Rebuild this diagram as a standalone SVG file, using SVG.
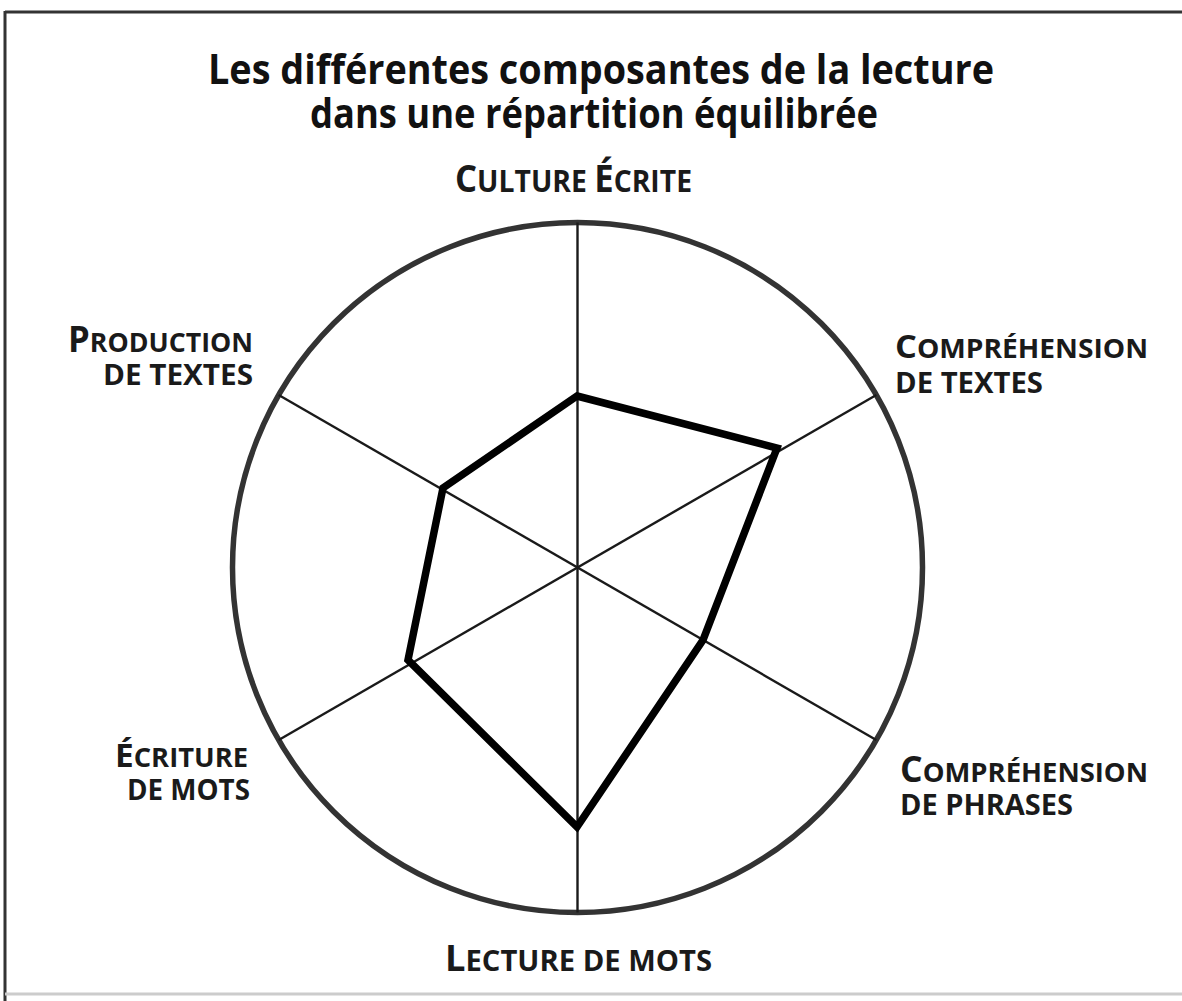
<svg xmlns="http://www.w3.org/2000/svg" width="1182" height="1001" viewBox="0 0 1182 1001">
<style>
.title{font-family:"Open Sans","Liberation Sans",sans-serif;font-weight:700;font-size:42px;fill:#111;}
.lab{font-family:"Open Sans","Liberation Sans",sans-serif;font-weight:700;fill:#1a1a1a;}
.axis{stroke:#1a1a1a;stroke-width:2.4;fill:none;}
.ring{stroke:#333;stroke-width:5.5;fill:none;}
.poly{stroke:#000;stroke-width:7.5;fill:none;stroke-linejoin:miter;}
</style>
<rect x="0" y="0" width="1182" height="1001" fill="#fff"/>
<g id="frame">
<line x1="5" y1="12" x2="1182" y2="12" stroke="#333" stroke-width="3"/>
<line x1="5" y1="11" x2="5" y2="1001" stroke="#333" stroke-width="3"/>
<line x1="5" y1="994" x2="1182" y2="994" stroke="#ccc" stroke-width="3"/>
</g>
<g id="title">
<text class="title" x="208" y="84" textLength="786" lengthAdjust="spacingAndGlyphs">Les différentes composantes de la lecture</text>
<text class="title" x="310" y="128" textLength="568" lengthAdjust="spacingAndGlyphs">dans une répartition équilibrée</text>
</g>
<g id="chart">
<circle class="ring" cx="577.5" cy="567.5" r="345"/>
</g>
<g id="connectors">
<line class="axis" x1="577.5" y1="222.5" x2="577.5" y2="912.5"/>
<line class="axis" x1="278.7" y1="395" x2="876.3" y2="740"/>
<line class="axis" x1="278.7" y1="740" x2="876.3" y2="395"/>
<polygon class="poly" points="577,396 777,448 703,640 577,827 408,660 443,488"/>
</g>
<g id="culture-ecrite">
<text class="lab" x="455" y="192" textLength="237" lengthAdjust="spacingAndGlyphs"><tspan font-size="38">C</tspan><tspan font-size="31">ULTURE </tspan><tspan font-size="38">É</tspan><tspan font-size="31">CRITE</tspan></text>
</g>
<g id="production-textes">
<text class="lab" x="68" y="352" textLength="185" lengthAdjust="spacingAndGlyphs"><tspan font-size="35">P</tspan><tspan font-size="27">RODUCTION</tspan></text>
<text class="lab" x="103" y="385" font-size="28" textLength="150" lengthAdjust="spacingAndGlyphs">DE TEXTES</text>
</g>
<g id="comprehension-textes">
<text class="lab" x="895" y="358" textLength="253" lengthAdjust="spacingAndGlyphs"><tspan font-size="33">C</tspan><tspan font-size="27">OMPRÉHENSION</tspan></text>
<text class="lab" x="895" y="393" font-size="28" textLength="148" lengthAdjust="spacingAndGlyphs">DE TEXTES</text>
</g>
<g id="comprehension-phrases">
<text class="lab" x="900" y="782" textLength="248" lengthAdjust="spacingAndGlyphs"><tspan font-size="35">C</tspan><tspan font-size="27">OMPRÉHENSION</tspan></text>
<text class="lab" x="900" y="815" font-size="28" textLength="173" lengthAdjust="spacingAndGlyphs">DE PHRASES</text>
</g>
<g id="ecriture-mots">
<text class="lab" x="115" y="767" textLength="133" lengthAdjust="spacingAndGlyphs"><tspan font-size="33">É</tspan><tspan font-size="27">CRITURE</tspan></text>
<text class="lab" x="127" y="800" font-size="28" textLength="123" lengthAdjust="spacingAndGlyphs">DE MOTS</text>
</g>
<g id="lecture-mots">
<text class="lab" x="445" y="971" textLength="267" lengthAdjust="spacingAndGlyphs"><tspan font-size="36">L</tspan><tspan font-size="29">ECTURE DE MOTS</tspan></text>
</g>
</svg>
